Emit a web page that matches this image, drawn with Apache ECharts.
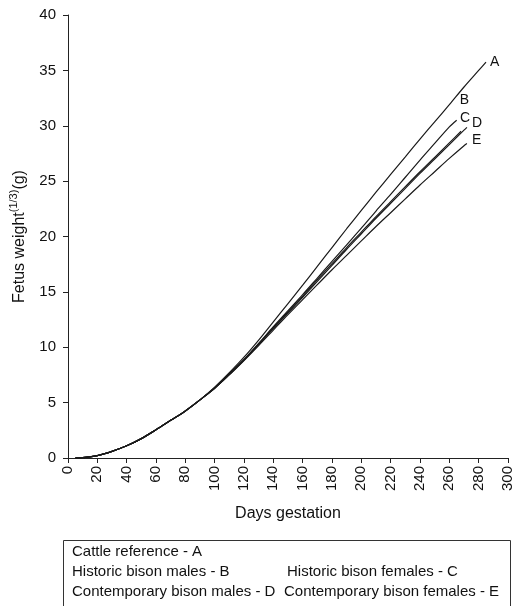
<!DOCTYPE html>
<html>
<head>
<meta charset="utf-8">
<script src="https://cdn.jsdelivr.net/npm/echarts@6/dist/echarts.min.js"></script>
<style>
  html, body { margin: 0; padding: 0; background: #fff; }
  #chart { width: 520px; height: 606px; }
</style>
</head>
<body>
<div id="chart"></div>
<script>
// days of gestation shared by the early part of all curves
const earlyDays = [5, 10, 20, 30, 40, 50, 60, 70, 80, 90];
const earlyVals = [0, 0.03, 0.22, 0.6, 1.1, 1.75, 2.55, 3.4, 4.25, 5.25];

// later part, per curve (cube root of fetus weight)
const daysA = [100, 110, 120, 130, 140, 150, 160, 170, 180, 190, 200, 210, 220, 230, 240, 250, 260, 270, 280, 285];
const valsA = [6.4, 7.7, 9.1, 10.65, 12.3, 13.95, 15.6, 17.3, 19.0, 20.7, 22.35, 24.0, 25.6, 27.2, 28.8, 30.35, 31.9, 33.5, 35.0, 35.75];

const daysB = [100, 110, 120, 130, 140, 150, 160, 170, 180, 190, 200, 210, 220, 230, 240, 250, 260, 265];
const valsB = [6.35, 7.6, 8.9, 10.35, 11.85, 13.3, 14.75, 16.25, 17.75, 19.25, 20.75, 22.3, 23.8, 25.35, 26.9, 28.4, 29.9, 30.5];

const daysC = [100, 110, 120, 130, 140, 150, 160, 170, 180, 190, 200, 210, 220, 230, 240, 250, 260, 268];
const valsC = [6.3, 7.55, 8.85, 10.3, 11.75, 13.2, 14.6, 16.1, 17.55, 19.0, 20.4, 21.8, 23.15, 24.5, 25.85, 27.15, 28.45, 29.5];

const daysD = [100, 110, 120, 130, 140, 150, 160, 170, 180, 190, 200, 210, 220, 230, 240, 250, 260, 270, 272];
const valsD = [6.3, 7.55, 8.85, 10.25, 11.7, 13.1, 14.5, 15.95, 17.4, 18.85, 20.25, 21.65, 23.0, 24.35, 25.7, 27.0, 28.3, 29.6, 29.85];

const daysE = [100, 110, 120, 130, 140, 150, 160, 170, 180, 190, 200, 210, 220, 230, 240, 250, 260, 270, 272];
const valsE = [6.3, 7.5, 8.8, 10.15, 11.55, 12.95, 14.3, 15.65, 17.0, 18.3, 19.6, 20.9, 22.15, 23.4, 24.65, 25.85, 27.05, 28.2, 28.4];

const curveNames = ['A', 'B', 'C', 'D', 'E'];
const legendLines = [
  ['Cattle reference - A', ''],
  ['Historic bison males - B', 'Historic bison females - C'],
  ['Contemporary bison males - D', 'Contemporary bison females - E']
];

const chart = echarts.init(document.getElementById('chart'));

const toPoints = (days, vals) => earlyDays.map((d, i) => [d, earlyVals[i]])
  .concat(days.map((d, i) => [d, vals[i]]));

const curves = [
  { name: 'A', data: toPoints(daysA, valsA), offset: [4, 0] },
  { name: 'B', data: toPoints(daysB, valsB), offset: [3, -20] },
  { name: 'C', data: toPoints(daysC, valsC), offset: [-1, -13] },
  { name: 'D', data: toPoints(daysD, valsD), offset: [5, -4] },
  { name: 'E', data: toPoints(daysE, valsE), offset: [5, -3] }
];

const font = 'Liberation Sans, Arial, sans-serif';

const series = curves.map(c => ({
  name: c.name,
  type: 'line',
  data: c.data,
  showSymbol: false,
  smooth: 0.3,
  lineStyle: { color: '#1a1a1a', width: 1.2 },
  endLabel: {
    show: true,
    formatter: c.name,
    distance: 0,
    offset: c.offset,
    color: '#111',
    fontSize: 14,
    fontFamily: font,
    align: 'left',
    verticalAlign: 'middle'
  },
  silent: true,
  animation: false
}));

// legend box drawn as plain graphics
const legendGraphics = [{
  type: 'rect',
  shape: { x: 63.5, y: 540.5, width: 447, height: 80 },
  style: { fill: 'none', stroke: '#333', lineWidth: 1 }
}];
const colX = [72, 287];
legendLines.forEach((row, r) => {
  row.forEach((txt, c) => {
    if (!txt) return;
    legendGraphics.push({
      type: 'text',
      left: c === 1 && r === 2 ? 284 : colX[c],
      top: 544 + r * 20,
      style: { text: txt, fill: '#111', fontSize: 15, fontFamily: font }
    });
  });
});

const option = {
  backgroundColor: '#fff',
  animation: false,
  grid: { left: 62.7, right: 12, top: 15, bottom: 148, containLabel: false },
  xAxis: {
    type: 'value',
    min: 0, max: 300, interval: 20,
    name: 'Days gestation',
    nameLocation: 'middle',
    nameGap: 48,
    nameTextStyle: { color: '#111', fontSize: 16, fontFamily: font },
    axisLine: { lineStyle: { color: '#222', width: 1 } },
    axisTick: { inside: false, length: 5, lineStyle: { color: '#222' } },
    axisLabel: { rotate: 90, color: '#111', fontSize: 15, fontFamily: font, margin: 8 },
    splitLine: { show: false }
  },
  yAxis: {
    type: 'value',
    min: 0, max: 40, interval: 5,
    name: '{a|Fetus weight}{s|(1/3)}{a|(g)}',
    nameLocation: 'middle',
    nameRotate: 90,
    nameGap: 40,
    nameTextStyle: {
      color: '#111', fontFamily: font,
      rich: {
        a: { fontSize: 16, fontFamily: font, color: '#111', verticalAlign: 'bottom', lineHeight: 20 },
        s: { fontSize: 11, fontFamily: font, color: '#111', verticalAlign: 'top', lineHeight: 20 }
      }
    },
    axisLine: { show: true, lineStyle: { color: '#222', width: 1 } },
    axisTick: { show: true, inside: false, length: 5, lineStyle: { color: '#222' } },
    axisLabel: { color: '#111', fontSize: 15, fontFamily: font, margin: 12 },
    splitLine: { show: false }
  },
  series: series,
  graphic: legendGraphics
};

chart.setOption(option);
</script>
</body>
</html>
